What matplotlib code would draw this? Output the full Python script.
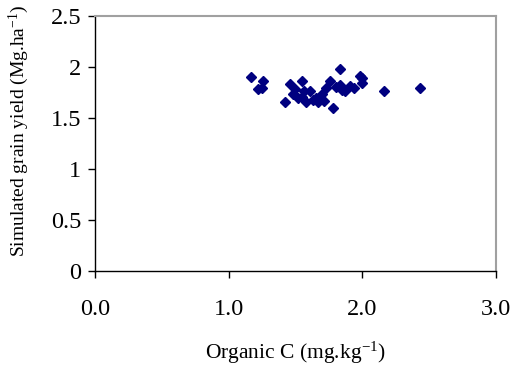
import matplotlib
matplotlib.use('Agg')
import matplotlib.pyplot as plt

# Organic C (mg/kg) vs simulated grain yield (Mg/ha)
organic_c = [1.17, 1.26, 1.22, 1.25, 1.46, 1.55, 1.42, 1.48, 1.52, 1.56,
             1.58, 1.83, 1.98, 1.76, 1.83, 1.91, 1.73, 1.61, 1.70, 1.55,
             1.67, 1.78, 1.94, 1.87, 1.65, 2.00, 2.00, 2.16, 2.43, 1.50,
             1.80, 1.85, 1.63, 1.71]
grain_yield = [1.90, 1.86, 1.78, 1.79, 1.83, 1.86, 1.66, 1.74, 1.70, 1.76,
               1.66, 1.98, 1.91, 1.86, 1.82, 1.81, 1.79, 1.76, 1.74, 1.71,
               1.66, 1.60, 1.79, 1.76, 1.70, 1.89, 1.84, 1.76, 1.79, 1.78,
               1.80, 1.77, 1.68, 1.67]

x_ticks = [0.0, 1.0, 2.0, 3.0]
y_ticks = [0, 0.5, 1, 1.5, 2, 2.5]
y_tick_labels = ['0', '0.5', '1', '1.5', '2', '2.5']

plt.rcParams['font.family'] = ['Liberation Serif', 'DejaVu Serif']
plt.rcParams['mathtext.fontset'] = 'custom'
plt.rcParams['mathtext.rm'] = 'Liberation Serif'
plt.rcParams['mathtext.it'] = 'Liberation Serif:italic'

fig = plt.figure(figsize=(5.13, 3.75), dpi=100)
ax = fig.add_axes([0.185, 0.278, 0.782, 0.679])

ax.plot(organic_c, grain_yield, linestyle='none', marker='D', markersize=5.5,
        color='#000080')

ax.set_xlim(0, 3)
ax.set_ylim(0, 2.5)
ax.set_xticks(x_ticks)
ax.set_xticklabels([f'{v:.1f}' for v in x_ticks])
ax.set_yticks(y_ticks)
ax.set_yticklabels(y_tick_labels)

ax.tick_params(axis='both', direction='out', length=5, width=1, labelsize=17.5, color='black')
ax.tick_params(axis='x', pad=15)
ax.tick_params(axis='y', pad=5)

for side in ['top', 'right']:
    ax.spines[side].set_color('#a0a0a0')
    ax.spines[side].set_linewidth(1.5)
for side in ['left', 'bottom']:
    ax.spines[side].set_color('black')
    ax.spines[side].set_linewidth(1)

ax.set_xlabel('Organic C (mg.kg$^{-1}$)', fontsize=15.5)
ax.set_ylabel('Simulated grain yield (Mg.ha$^{-1}$)', fontsize=14)
ax.xaxis.set_label_coords(0.5, -0.27)
ax.yaxis.set_label_coords(-0.16, 0.55)

fig.savefig('out.png', dpi=100)
